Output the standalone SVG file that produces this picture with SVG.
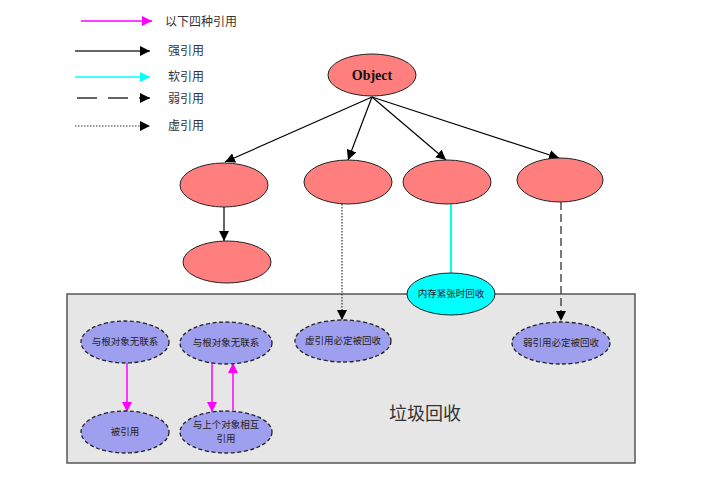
<svg xmlns="http://www.w3.org/2000/svg" width="717" height="494" viewBox="0 0 717 494">
<defs>
<marker id="ab" viewBox="0 0 10 10" refX="10" refY="5" markerWidth="10" markerHeight="10" markerUnits="userSpaceOnUse" orient="auto"><path d="M0,0 L10,5 L0,10 z" fill="#000"/></marker>
<marker id="am" viewBox="0 0 10 10" refX="10" refY="5" markerWidth="10" markerHeight="10" markerUnits="userSpaceOnUse" orient="auto"><path d="M0,0 L10,5 L0,10 z" fill="#ff00ff"/></marker>
<marker id="ac" viewBox="0 0 10 10" refX="10" refY="5" markerWidth="10" markerHeight="10" markerUnits="userSpaceOnUse" orient="auto"><path d="M0,0 L10,5 L0,10 z" fill="#00ffff"/></marker>
</defs>
<style>
.leg{font-family:"Noto Sans CJK SC","Noto Sans",sans-serif;font-size:12px;fill:#333}
.red{fill:#ff7f7f;stroke:#222;stroke-width:1}
.pur{fill:#9f9fef;stroke:#222;stroke-width:1.3;stroke-dasharray:4,2.5}
.nt{font-family:"Noto Sans CJK SC",sans-serif;font-size:9.5px;fill:#222;text-anchor:middle}
.blk{stroke:#000;stroke-width:1.2;fill:none}
.mag{stroke:#ff00ff;stroke-width:1.5;fill:none}
</style>
<rect width="717" height="494" fill="#fff"/>
<g id="legend">
<line x1="81" y1="21" x2="152" y2="21" class="mag" marker-end="url(#am)"/>
<text x="165" y="26" class="leg">以下四种引用</text>
<line x1="75" y1="51" x2="150" y2="51" stroke="#666" stroke-width="2" marker-end="url(#ab)"/>
<text x="168" y="55" class="leg">强引用</text>
<line x1="75" y1="77" x2="150" y2="77" stroke="#00ffff" stroke-width="1.5" marker-end="url(#ac)"/>
<text x="168" y="81" class="leg">软引用</text>
<line x1="77" y1="98" x2="150" y2="98" stroke="#333" stroke-width="1.5" stroke-dasharray="20,11" marker-end="url(#ab)"/>
<text x="168" y="103" class="leg">弱引用</text>
<line x1="75" y1="126" x2="150" y2="126" stroke="#333" stroke-width="1.2" stroke-dasharray="1.5,1.5" marker-end="url(#ab)"/>
<text x="168" y="130" class="leg">虚引用</text>
</g>
<g id="gc-box">
<rect x="67" y="294" width="568" height="169" fill="#e6e6e6" stroke="#555" stroke-width="1.5"/>
<text x="425" y="420" font-family="Noto Sans CJK SC,sans-serif" font-size="18" fill="#333" text-anchor="middle">垃圾回收</text>
</g>
<g id="connectors">
<line x1="372" y1="97" x2="225" y2="162" class="blk" marker-end="url(#ab)"/>
<line x1="372" y1="97" x2="348" y2="160" class="blk" marker-end="url(#ab)"/>
<line x1="372" y1="97" x2="446" y2="160" class="blk" marker-end="url(#ab)"/>
<line x1="372" y1="97" x2="559" y2="158" class="blk" marker-end="url(#ab)"/>
<line x1="224" y1="207" x2="224" y2="241" class="blk" marker-end="url(#ab)"/>
<line x1="342" y1="204" x2="342" y2="320" stroke="#333" stroke-width="1.2" stroke-dasharray="1.5,1.5" marker-end="url(#ab)"/>
<line x1="451" y1="204" x2="451" y2="273" stroke="#00ffff" stroke-width="2"/>
<line x1="561" y1="202" x2="561" y2="321" stroke="#333" stroke-width="1.3" stroke-dasharray="8,4" marker-end="url(#ab)"/>
<line x1="127" y1="363" x2="127" y2="412" class="mag" marker-end="url(#am)"/>
<line x1="212" y1="363" x2="212" y2="412" class="mag" marker-end="url(#am)"/>
<line x1="233" y1="410" x2="233" y2="363" class="mag" marker-end="url(#am)"/>
</g>
<g id="object"><ellipse cx="372" cy="75" rx="44" ry="21" class="red"/><text x="372" y="80" font-family="Liberation Serif,serif" font-weight="bold" font-size="14" text-anchor="middle" fill="#111">Object</text></g>
<g id="strong"><ellipse cx="224" cy="185" rx="44" ry="22" class="red"/></g>
<g id="strong-child"><ellipse cx="227" cy="262" rx="44" ry="21" class="red"/></g>
<g id="phantom"><ellipse cx="348" cy="182" rx="44" ry="22" class="red"/></g>
<g id="soft"><ellipse cx="447" cy="182" rx="44" ry="22" class="red"/></g>
<g id="weak"><ellipse cx="560" cy="180" rx="43" ry="22" class="red"/></g>
<g id="soft-gc"><ellipse cx="451" cy="294" rx="44" ry="21" fill="#00ffff" stroke="#222" stroke-width="1"/><text x="451" y="297" class="nt">内存紧张时回收</text></g>
<g id="no-root-1"><ellipse cx="125" cy="342" rx="44" ry="21" class="pur"/><text x="125" y="345" class="nt">与根对象无联系</text></g>
<g id="no-root-2"><ellipse cx="226" cy="343" rx="46" ry="21" class="pur"/><text x="226" y="346" class="nt">与根对象无联系</text></g>
<g id="referenced"><ellipse cx="125" cy="432" rx="44" ry="21" class="pur"/><text x="125" y="435" class="nt">被引用</text></g>
<g id="mutual"><ellipse cx="226" cy="432" rx="46" ry="21" class="pur"/><text x="226" y="428" class="nt" font-size="9">与上个对象相互</text><text x="226" y="442" class="nt" font-size="9">引用</text></g>
<g id="phantom-gc"><ellipse cx="343" cy="341" rx="48" ry="21" class="pur"/><text x="343" y="344" class="nt">虚引用必定被回收</text></g>
<g id="weak-gc"><ellipse cx="561" cy="343" rx="49" ry="21" class="pur"/><text x="561" y="346" class="nt">弱引用必定被回收</text></g>
</svg>
